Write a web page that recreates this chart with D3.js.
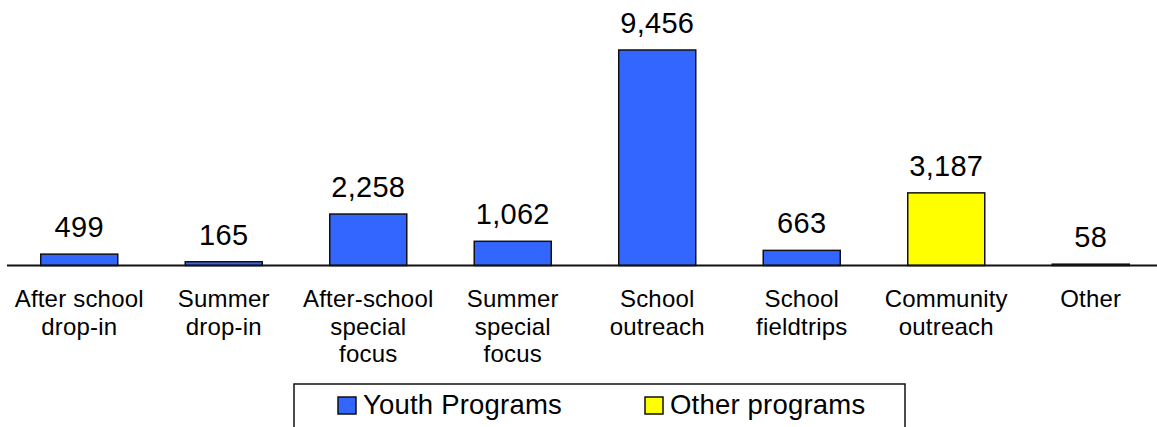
<!DOCTYPE html>
<html>
<head>
<meta charset="utf-8">
<script src="https://cdn.jsdelivr.net/npm/d3@7/dist/d3.min.js"></script>
<style>
  html, body { margin: 0; padding: 0; background: #fff; }
  svg { display: block; font-family: "Liberation Sans", Arial, sans-serif; }
</style>
</head>
<body>
<svg id="chart" width="1157" height="427"></svg>
<script>
// Participants by program type
const categories = [
  ["After school", "drop-in"],
  ["Summer", "drop-in"],
  ["After-school", "special", "focus"],
  ["Summer", "special", "focus"],
  ["School", "outreach"],
  ["School", "fieldtrips"],
  ["Community", "outreach"],
  ["Other"]
];
const values = [499, 165, 2258, 1062, 9456, 663, 3187, 58];
const groups = ["Youth Programs", "Youth Programs", "Youth Programs", "Youth Programs",
                "Youth Programs", "Youth Programs", "Other programs", "Other programs"];
const seriesNames = ["Youth Programs", "Other programs"];
const seriesColors = ["#3366ff", "#ffff00"];

const svg = d3.select("#chart");
const baseY = 265.5;

const x = d3.scaleBand()
  .domain(d3.range(categories.length))
  .range([7, 1163])
  .paddingInner(0.467)
  .paddingOuter(0.2335);

const y = d3.scaleLinear()
  .domain([0, 10000])
  .range([baseY, baseY - 227.9]);

const color = d3.scaleOrdinal().domain(seriesNames).range(seriesColors);

// Bars
svg.append("g").selectAll("rect")
  .data(values)
  .join("rect")
  .attr("x", (d, i) => x(i))
  .attr("y", d => y(d))
  .attr("width", x.bandwidth())
  .attr("height", d => baseY - y(d))
  .attr("fill", (d, i) => color(groups[i]))
  .attr("stroke", "#111")
  .attr("stroke-width", 1.5);

// Baseline
svg.append("line")
  .attr("x1", 7).attr("x2", 1157)
  .attr("y1", baseY).attr("y2", baseY)
  .attr("stroke", "#111")
  .attr("stroke-width", 2);

// Value labels
const fmt = d3.format(",");
svg.append("g").selectAll("text")
  .data(values)
  .join("text")
  .attr("x", (d, i) => x(i) + x.bandwidth() / 2)
  .attr("y", d => y(d) - 17)
  .attr("text-anchor", "middle")
  .attr("font-size", 29)
  .attr("letter-spacing", 0.3)
  .attr("fill", "#000")
  .text(d => fmt(d));

// Category labels
const catG = svg.append("g").selectAll("text")
  .data(categories)
  .join("text")
  .attr("x", (d, i) => x(i) + x.bandwidth() / 2)
  .attr("y", 307)
  .attr("text-anchor", "middle")
  .attr("font-size", 24)
  .attr("letter-spacing", 0.2)
  .attr("fill", "#000");
catG.each(function(lines, i) {
  const t = d3.select(this);
  lines.forEach((line, k) => {
    t.append("tspan")
      .attr("x", x(i) + x.bandwidth() / 2)
      .attr("dy", k === 0 ? 0 : 27.7)
      .text(line);
  });
});

// Legend
const legend = svg.append("g");
legend.append("rect")
  .attr("x", 294).attr("y", 384)
  .attr("width", 611).attr("height", 60)
  .attr("fill", "#fff")
  .attr("stroke", "#111")
  .attr("stroke-width", 1.5);

const legendX = [338, 645];
seriesNames.forEach((name, i) => {
  legend.append("rect")
    .attr("x", legendX[i]).attr("y", 397)
    .attr("width", 18).attr("height", 17)
    .attr("fill", color(name))
    .attr("stroke", "#111")
    .attr("stroke-width", 1.5);
  legend.append("text")
    .attr("x", legendX[i] + 25)
    .attr("y", 414)
    .attr("font-size", 27.5)
    .attr("letter-spacing", 0.2)
    .attr("fill", "#000")
    .text(name);
});
</script>
</body>
</html>
